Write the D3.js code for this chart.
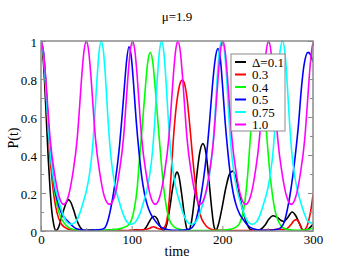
<!DOCTYPE html>
<html><head><meta charset="utf-8">
<script src="https://cdn.jsdelivr.net/npm/d3@7"></script>
<style>
html,body{margin:0;padding:0;background:#fff;}
svg{display:block;}
svg text{font-family:"Liberation Serif","Times New Roman","DejaVu Serif",serif !important;}
</style></head>
<body>
<svg id="chart" width="353" height="273"></svg>
<script>
// ---- data: [time, P(t)] ----
const seriesLabels = ["\u0394=0.1", "0.3", "0.4", "0.5", "0.75", "1.0"];
const seriesColors = ["#000000", "#ff0000", "#00ff00", "#0000ff", "#00ffff", "#ff00ff"];

const d01 = [[0,1],[2,0.93],[4,0.78],[6,0.58],[8,0.38],[10,0.22],[12,0.1],[14,0.035],[16.5,0.002],[19,0.015],[22,0.06],[25,0.11],[28,0.15],[30,0.165],[33,0.15],[36,0.11],[39,0.065],[42,0.03],[45,0.01],[47,0.002],[50,0.002],[55,0.006],[60,0.004],[66,0.001],[72,0.004],[80,0.008],[88,0.003],[95,0.001],[100,0.003],[105,0.006],[110,0.004],[113,0.006],[116,0.02],[119,0.045],[122,0.068],[125,0.078],[128,0.065],[131,0.03],[134,0.005],[136,0.004],[139,0.04],[142,0.12],[145,0.22],[148,0.29],[150,0.31],[152,0.29],[155,0.2],[158,0.09],[161,0.01],[163,0.005],[166,0.05],[169,0.16],[172,0.3],[175,0.41],[178.5,0.46],[182,0.41],[185,0.28],[188,0.13],[191,0.02],[193,0.005],[196,0.04],[200,0.13],[204,0.23],[208,0.3],[211.5,0.315],[215,0.28],[219,0.19],[223,0.1],[227,0.04],[231,0.008],[236,0.003],[242,0.008],[247,0.03],[251,0.06],[256,0.08],[261,0.07],[265,0.055],[268,0.05],[272,0.07],[277,0.1],[281,0.08],[285,0.04],[289,0.005],[292,0.003],[296,0.015],[300,0.035]];

const d03 = [[0,1],[3,0.9],[6,0.68],[9,0.45],[12,0.28],[15,0.16],[18,0.09],[22,0.04],[26,0.02],[30,0.01],[40,0.004],[60,0.002],[80,0.002],[95,0.003],[105,0.005],[115,0.008],[120,0.015],[124,0.022],[128,0.015],[132,0.01],[136,0.02],[139,0.06],[141,0.14],[143,0.26],[145.5,0.45],[148,0.6],[151,0.72],[154,0.785],[156,0.795],[158,0.78],[161,0.7],[164,0.56],[167,0.4],[170,0.26],[173,0.15],[176,0.08],[180,0.04],[185,0.015],[192,0.005],[200,0.004],[215,0.003],[230,0.003],[245,0.004],[255,0.006],[262,0.01],[268,0.008],[272,0.015],[276,0.035],[279,0.055],[282,0.06],[285,0.04],[288,0.008],[290,0.005],[293,0.02],[296,0.07],[298,0.12],[300,0.19]];

const d04 = [[0,1],[3,0.92],[6,0.72],[9,0.5],[12,0.33],[15,0.21],[18,0.13],[22,0.07],[26,0.04],[30,0.02],[36,0.008],[45,0.003],[60,0.003],[75,0.005],[85,0.01],[92,0.02],[96,0.03],[100,0.06],[103,0.12],[106,0.22],[108.5,0.37],[111.5,0.54],[114.5,0.72],[117.5,0.88],[120.5,0.94],[123.5,0.88],[126.5,0.72],[129.5,0.54],[132.5,0.37],[135.5,0.22],[138.5,0.12],[141.5,0.06],[146,0.025],[152,0.01],[162,0.003],[180,0.002],[200,0.004],[210,0.01],[215,0.02],[219,0.04],[222,0.08],[225,0.16],[228,0.3],[231,0.5],[234,0.7],[237,0.85],[240,0.9],[243,0.85],[246,0.7],[249,0.5],[252,0.33],[255,0.2],[258,0.11],[261,0.06],[265,0.025],[270,0.01],[280,0.004],[290,0.005],[300,0.015]];

const d05 = [[0,1],[3,0.93],[6,0.72],[9,0.5],[12,0.34],[15,0.23],[18,0.16],[22,0.1],[26,0.07],[30,0.05],[35,0.025],[40,0.01],[48,0.004],[60,0.005],[66,0.008],[70,0.015],[73.5,0.05],[77,0.12],[80,0.2],[83,0.3],[86,0.42],[89,0.58],[92,0.76],[94.5,0.9],[97,0.97],[99.5,0.92],[102,0.78],[105,0.58],[108,0.42],[111,0.29],[114,0.2],[117,0.14],[121,0.09],[125,0.06],[130,0.03],[136,0.012],[145,0.004],[155,0.004],[162,0.008],[167,0.02],[170.5,0.05],[174,0.12],[177,0.2],[180,0.3],[183,0.42],[186,0.58],[189,0.76],[192,0.9],[195,0.96],[197.5,0.92],[200,0.78],[203,0.58],[206,0.42],[209,0.29],[212,0.2],[215,0.14],[219,0.09],[223,0.06],[228,0.03],[234,0.012],[243,0.004],[253,0.004],[260,0.008],[265,0.02],[268.5,0.05],[272,0.12],[275,0.2],[278,0.3],[281,0.42],[284,0.56],[287,0.74],[290,0.87],[294.5,0.94],[297,0.93],[300,0.89]];

const d075 = [[0,1],[2.5,0.94],[5,0.78],[7.5,0.58],[10,0.42],[13,0.3],[16,0.22],[20,0.15],[24,0.09],[28,0.05],[33,0.035],[38.5,0.05],[42.5,0.09],[46.5,0.15],[50.5,0.22],[53.5,0.3],[56.5,0.42],[59,0.58],[61.5,0.78],[64,0.94],[66.5,1],[69,0.94],[71.5,0.78],[74,0.58],[76.5,0.42],[79.5,0.3],[82.5,0.22],[86.5,0.15],[90.5,0.09],[94.5,0.05],[99.5,0.035],[104.5,0.05],[109,0.09],[113,0.15],[117,0.22],[120,0.3],[123,0.42],[125.5,0.58],[128,0.78],[130.5,0.94],[133,1],[135.5,0.94],[138,0.78],[140.5,0.58],[143,0.42],[146,0.3],[149,0.22],[153,0.15],[157,0.09],[161,0.05],[166,0.035],[171,0.05],[175,0.09],[179,0.15],[183,0.22],[186,0.3],[189,0.42],[191.5,0.58],[194,0.78],[196.5,0.94],[199.5,1],[202.5,0.94],[205,0.78],[207.5,0.58],[210,0.42],[213,0.3],[216,0.22],[220,0.15],[224,0.09],[228,0.05],[233,0.035],[238,0.05],[242,0.09],[246,0.15],[250,0.22],[253,0.3],[256,0.42],[258.5,0.58],[261,0.78],[263.5,0.94],[266.5,1],[269,0.94],[271.5,0.78],[274,0.58],[276.5,0.42],[279.5,0.3],[282.5,0.22],[286.5,0.15],[290.5,0.09],[294.5,0.05],[300,0.04]];

const d10 = [[0,1],[2.5,0.95],[5,0.82],[7.5,0.65],[10,0.49],[15,0.3],[20,0.18],[25,0.14],[30,0.18],[35,0.3],[40,0.49],[42.5,0.65],[45,0.82],[47.5,0.95],[50,1],[52.5,0.95],[55,0.82],[57.5,0.65],[60,0.49],[65,0.3],[70,0.18],[75.5,0.14],[81,0.18],[86,0.3],[91,0.49],[93.5,0.65],[96,0.82],[98.5,0.95],[101,1],[103.5,0.95],[106,0.82],[108.5,0.65],[111,0.49],[116,0.3],[121,0.18],[126,0.14],[131,0.18],[136,0.3],[141,0.49],[143.5,0.65],[146,0.82],[148.5,0.95],[151,1],[153.5,0.95],[156,0.82],[158.5,0.65],[161,0.49],[166,0.3],[171,0.18],[175.7,0.14],[180.5,0.18],[185.5,0.3],[190.5,0.49],[193,0.65],[195.5,0.82],[198,0.95],[200.5,1],[203,0.95],[205.5,0.82],[208,0.65],[210.5,0.49],[215.5,0.3],[220.5,0.18],[225.7,0.14],[231,0.18],[236,0.3],[241,0.49],[243.5,0.65],[246,0.82],[248.5,0.95],[251,1],[253.5,0.95],[256,0.82],[258.5,0.65],[261,0.49],[266,0.3],[271,0.18],[276,0.14],[281,0.18],[286,0.3],[291,0.49],[293.5,0.65],[296,0.82],[298.5,0.95],[300,0.99]];

const seriesData = [d01, d03, d04, d05, d075, d10];

const xTicks = [0, 100, 200, 300];
const xMinorTicks = [50, 150, 250];
const yTicks = [0, 0.2, 0.4, 0.6, 0.8, 1];
const yTickLabels = ["0", "0.2", "0.4", "0.6", "0.8", "1"];
const yMinorTicks = [0.1, 0.3, 0.5, 0.7, 0.9];
const titleText = "\u03bc=1.9";
const xLabel = "time";
const yLabel = "P(t)";

// ---- layout ----
const FONT = '"Liberation Serif","Times New Roman","DejaVu Serif",serif';
const L = 41, R = 313, T = 41, B = 231;
const frameColor = "#8a8a8a";
const svg = d3.select("#chart");
const x = d3.scaleLinear().domain([0, 300]).range([L, R]);
const y = d3.scaleLinear().domain([0, 1]).range([B, T]);

svg.append("defs").append("clipPath").attr("id", "clip")
  .append("rect").attr("x", L).attr("y", T - 1).attr("width", R - L).attr("height", B - T + 1);

// curves
const line = d3.line().x(d => x(d[0])).y(d => y(d[1])).curve(d3.curveMonotoneX);
const g = svg.append("g").attr("clip-path", "url(#clip)");
seriesData.forEach((s, i) => {
  g.append("path").datum(s).attr("d", line)
    .attr("fill", "none").attr("stroke", seriesColors[i]).attr("stroke-width", 1.6)
    .attr("stroke-linejoin", "round");
});

// axes (ticks inward)
function styleAxis(sel) {
  sel.attr("font-family", FONT).attr("font-size", 13);
  sel.select(".domain").remove();
  sel.selectAll(".tick line").attr("stroke", frameColor).attr("stroke-width", 1);
  sel.selectAll(".tick text").attr("fill", "#000");
}
const axB = svg.append("g").attr("transform", `translate(0,${B})`)
  .call(d3.axisBottom(x).tickValues(xTicks).tickFormat(d3.format("d")).tickSize(-5).tickPadding(4));
styleAxis(axB);
const axBm = svg.append("g").attr("transform", `translate(0,${B})`)
  .call(d3.axisBottom(x).tickValues(xMinorTicks).tickFormat("").tickSize(-3));
styleAxis(axBm);
const axT = svg.append("g").attr("transform", `translate(0,${T})`)
  .call(d3.axisTop(x).tickValues(xTicks).tickFormat("").tickSize(-5));
styleAxis(axT);
const axTm = svg.append("g").attr("transform", `translate(0,${T})`)
  .call(d3.axisTop(x).tickValues(xMinorTicks).tickFormat("").tickSize(-3));
styleAxis(axTm);
const axL = svg.append("g").attr("transform", `translate(${L},0)`)
  .call(d3.axisLeft(y).tickValues(yTicks).tickFormat((d, i) => yTickLabels[i]).tickSize(-5).tickPadding(4));
styleAxis(axL);
axL.selectAll(".tick text").attr("dy", "0.42em");
const axLm = svg.append("g").attr("transform", `translate(${L},0)`)
  .call(d3.axisLeft(y).tickValues(yMinorTicks).tickFormat("").tickSize(-3));
styleAxis(axLm);
const axR = svg.append("g").attr("transform", `translate(${R},0)`)
  .call(d3.axisRight(y).tickValues(yTicks).tickFormat("").tickSize(-5));
styleAxis(axR);
const axRm = svg.append("g").attr("transform", `translate(${R},0)`)
  .call(d3.axisRight(y).tickValues(yMinorTicks).tickFormat("").tickSize(-3));
styleAxis(axRm);

// frame
svg.append("rect").attr("x", L).attr("y", T).attr("width", R - L).attr("height", B - T)
  .attr("fill", "none").attr("stroke", frameColor).attr("stroke-width", 1.5);

// titles
svg.append("text").attr("x", 177).attr("y", 21).attr("text-anchor", "middle")
  .attr("font-family", FONT).attr("font-size", 13).text(titleText);
svg.append("text").attr("x", 177).attr("y", 256).attr("text-anchor", "middle")
  .attr("font-family", FONT).attr("font-size", 14).text(xLabel);
svg.append("text").attr("transform", "translate(18,138) rotate(-90)").attr("text-anchor", "middle")
  .attr("font-family", FONT).attr("font-size", 14).text(yLabel);

// legend
const lx = 231, ly = 54, lw = 54, lh = 77, rowH = 12.5;
const lg = svg.append("g");
lg.append("rect").attr("x", lx).attr("y", ly).attr("width", lw).attr("height", lh)
  .attr("fill", "#fff").attr("stroke", frameColor).attr("stroke-width", 1);
seriesLabels.forEach((lab, i) => {
  const cy = ly + 8 + i * rowH;
  lg.append("line").attr("x1", lx + 4).attr("x2", lx + 15).attr("y1", cy).attr("y2", cy)
    .attr("stroke", seriesColors[i]).attr("stroke-width", 2);
  lg.append("text").attr("x", lx + 21).attr("y", cy).attr("dy", "0.36em")
    .attr("font-family", FONT).attr("font-size", 13).text(lab);
});
</script>
</body></html>
